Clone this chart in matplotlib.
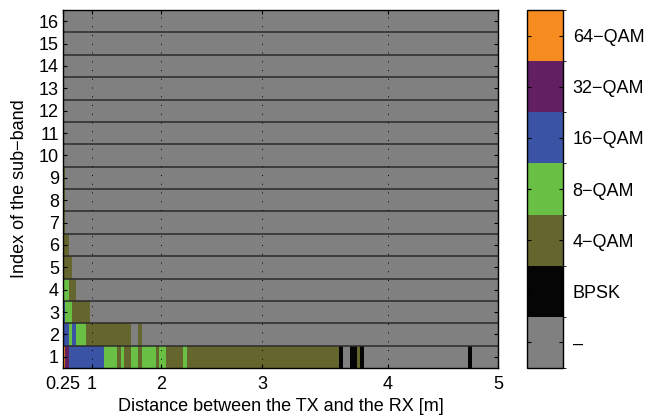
import numpy as np
import matplotlib
matplotlib.use("Agg")
import matplotlib.pyplot as plt
from matplotlib.colors import ListedColormap, BoundaryNorm

plt.rcParams['font.family'] = ['Liberation Sans', 'DejaVu Sans']

# modulation levels: 0 '-', 1 BPSK, 2 4-QAM, 3 8-QAM, 4 16-QAM, 5 32-QAM, 6 64-QAM
mod_names = ['\u2013', 'BPSK', '4\u2212QAM', '8\u2212QAM', '16\u2212QAM', '32\u2212QAM', '64\u2212QAM']
mod_colors = ['#808080', '#050505', '#65662E', '#6ABF45', '#3A53A4', '#621F62', '#F68B1F']

d_start = 0.25
d_end = 5.0

# per sub-band: end distance of each segment and its modulation level
b1_edges = [0.29, 0.40, 1.17, 1.36, 1.42, 1.46, 1.57, 1.67, 1.73, 1.93, 1.97, 2.05, 2.22, 2.26,
            3.61, 3.64, 3.70, 3.75, 3.78, 3.81, 4.73, 4.76, 5.0]
b1_levels = [6, 5, 4, 3, 2, 3, 2, 3, 2, 3, 2, 3, 2, 3, 2, 1, 0, 1, 2, 1, 0, 1, 0]
b2_edges = [0.40, 0.48, 0.59, 0.85, 1.57, 1.67, 1.73, 5.0]
b2_levels = [4, 3, 4, 3, 2, 0, 2, 0]
b3_edges = [0.30, 0.48, 0.95, 5.0]
b3_levels = [4, 3, 2, 0]
b4_edges = [0.40, 0.59, 5.0]
b4_levels = [3, 2, 0]
b5_edges = [0.48, 5.0]
b5_levels = [2, 0]
b6_edges = [0.40, 5.0]
b6_levels = [2, 0]
b7_edges = [0.29, 5.0]
b7_levels = [2, 0]
b8_edges = [0.29, 5.0]
b8_levels = [2, 0]
b9_edges = [0.29, 5.0]
b9_levels = [2, 0]
empty_edges = [5.0]
empty_levels = [0]

bands = [(b1_edges, b1_levels), (b2_edges, b2_levels), (b3_edges, b3_levels),
         (b4_edges, b4_levels), (b5_edges, b5_levels), (b6_edges, b6_levels),
         (b7_edges, b7_levels), (b8_edges, b8_levels), (b9_edges, b9_levels)]
bands += [(empty_edges, empty_levels)] * 7

x_ticks = [0.25, 1, 2, 3, 4, 5]
x_ticklabels = ['0.25', '1', '2', '3', '4', '5']

# the distance axis is not linear: piecewise scale through the tick positions
scale_d = [-100.0, 0.25, 1, 2, 3, 4, 5, 100.0]
scale_u = [0, 29, 98, 199, 325, 435]
scale_u = [scale_u[0] - 100.25 * 29 / 0.75] + scale_u + [scale_u[-1] + 95 * 110]


def fwd(d):
    return np.interp(d, scale_d, scale_u)


def inv(u):
    return np.interp(u, scale_u, scale_d)


fs = 13

fig = plt.figure(figsize=(6.47, 4.19), dpi=100)
ax = fig.add_axes([0.0974, 0.1217, 0.6723, 0.8544])
ax.set_xscale('function', functions=(fwd, inv))

for i, (edges, levels) in enumerate(bands):
    left = d_start
    for e, lv in zip(edges, levels):
        ax.barh(i + 1, e - left, left=left, height=1.0, color=mod_colors[lv], linewidth=0)
        left = e

for y in np.arange(1.5, 16.5, 1.0):
    ax.axhline(y, color='#2b2b2b', lw=1.1, zorder=3)

for xt in x_ticks[1:-1]:
    ax.axvline(xt, color='k', lw=0.7, linestyle=(0, (1, 8)), zorder=3)

ax.set_xlim(d_start, d_end)
ax.set_ylim(0.5, 16.5)
ax.set_xticks(x_ticks)
ax.set_xticklabels(x_ticklabels)
ax.set_yticks(range(1, 17))
ax.tick_params(direction='in', top=True, right=True, length=3, labelsize=fs, pad=3)
ax.tick_params(axis='x', pad=6)
ax.minorticks_off()
ax.set_xlabel('Distance between the TX and the RX [m]', fontsize=fs, labelpad=3)
ax.set_ylabel('Index of the sub\u2212band', fontsize=fs, labelpad=8)
for s in ax.spines.values():
    s.set_linewidth(1.0)
    s.set_zorder(4)

cax = fig.add_axes([0.8145, 0.1217, 0.0556, 0.8544])
cmap = ListedColormap(mod_colors)
norm = BoundaryNorm(np.arange(-0.5, 7.5, 1.0), cmap.N)
cb = fig.colorbar(matplotlib.cm.ScalarMappable(norm=norm, cmap=cmap), cax=cax)
cb.set_ticks(range(7))
cb.set_ticklabels(mod_names)
cax.tick_params(direction='in', left=True, right=True, length=3, labelsize=fs, pad=7)
cb.outline.set_linewidth(1.0)

fig.savefig('out.png', dpi=100)
